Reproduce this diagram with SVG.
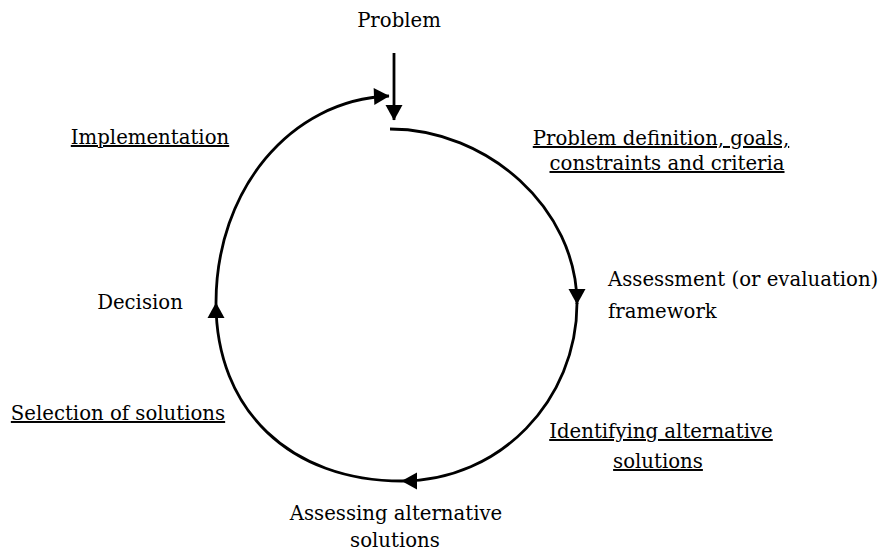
<svg xmlns="http://www.w3.org/2000/svg" width="879" height="551" viewBox="0 0 879 551">
  <style>
    .lbl { font-family: "DejaVu Serif", "Liberation Serif", serif; font-size: 19.7px; fill: #000; }
    .u { text-decoration: underline; }
    .edge { fill: none; stroke: #000; stroke-width: 2.8; }
  </style>
  <defs>
    <marker id="arrow" markerUnits="userSpaceOnUse" markerWidth="18" markerHeight="18" viewBox="0 0 18 18" refX="16" refY="9" orient="auto">
      <path d="M1,0.5 L16.5,9 L1,17.5 Z" fill="#000"/>
    </marker>
  </defs>
  <rect width="879" height="551" fill="#fff"/>

  <g id="connectors">
    <path class="edge" d="M394,53 L394,120" marker-end="url(#arrow)"/>
    <path class="edge" d="M390,129 C487,129 577,208 577,304" marker-end="url(#arrow)"/>
    <path class="edge" d="M577,303 C577,400 500,481 402,481" marker-end="url(#arrow)"/>
    <path class="edge" d="M402,481 C290,481 216,410 216,303" marker-end="url(#arrow)"/>
    <path class="edge" d="M216,303 C216,190 290,100 389,96" marker-end="url(#arrow)"/>
  </g>

  <g id="problem"><text class="lbl" x="399" y="27" text-anchor="middle">Problem</text></g>
  <g id="definition">
    <text class="lbl u" x="661" y="145" text-anchor="middle">Problem definition, goals,</text>
    <text class="lbl u" x="667" y="170" text-anchor="middle">constraints and criteria</text>
  </g>
  <g id="framework">
    <text class="lbl" x="608" y="286">Assessment (or evaluation)</text>
    <text class="lbl" x="608" y="318">framework</text>
  </g>
  <g id="identifying">
    <text class="lbl u" x="661" y="438" text-anchor="middle">Identifying alternative</text>
    <text class="lbl u" x="658" y="468" text-anchor="middle">solutions</text>
  </g>
  <g id="assessing">
    <text class="lbl" x="396" y="520" text-anchor="middle">Assessing alternative</text>
    <text class="lbl" x="395" y="547" text-anchor="middle">solutions</text>
  </g>
  <g id="selection"><text class="lbl u" x="118" y="420" text-anchor="middle">Selection of solutions</text></g>
  <g id="decision"><text class="lbl" x="140" y="309" text-anchor="middle">Decision</text></g>
  <g id="implementation"><text class="lbl u" x="150" y="144" text-anchor="middle">Implementation</text></g>
</svg>
